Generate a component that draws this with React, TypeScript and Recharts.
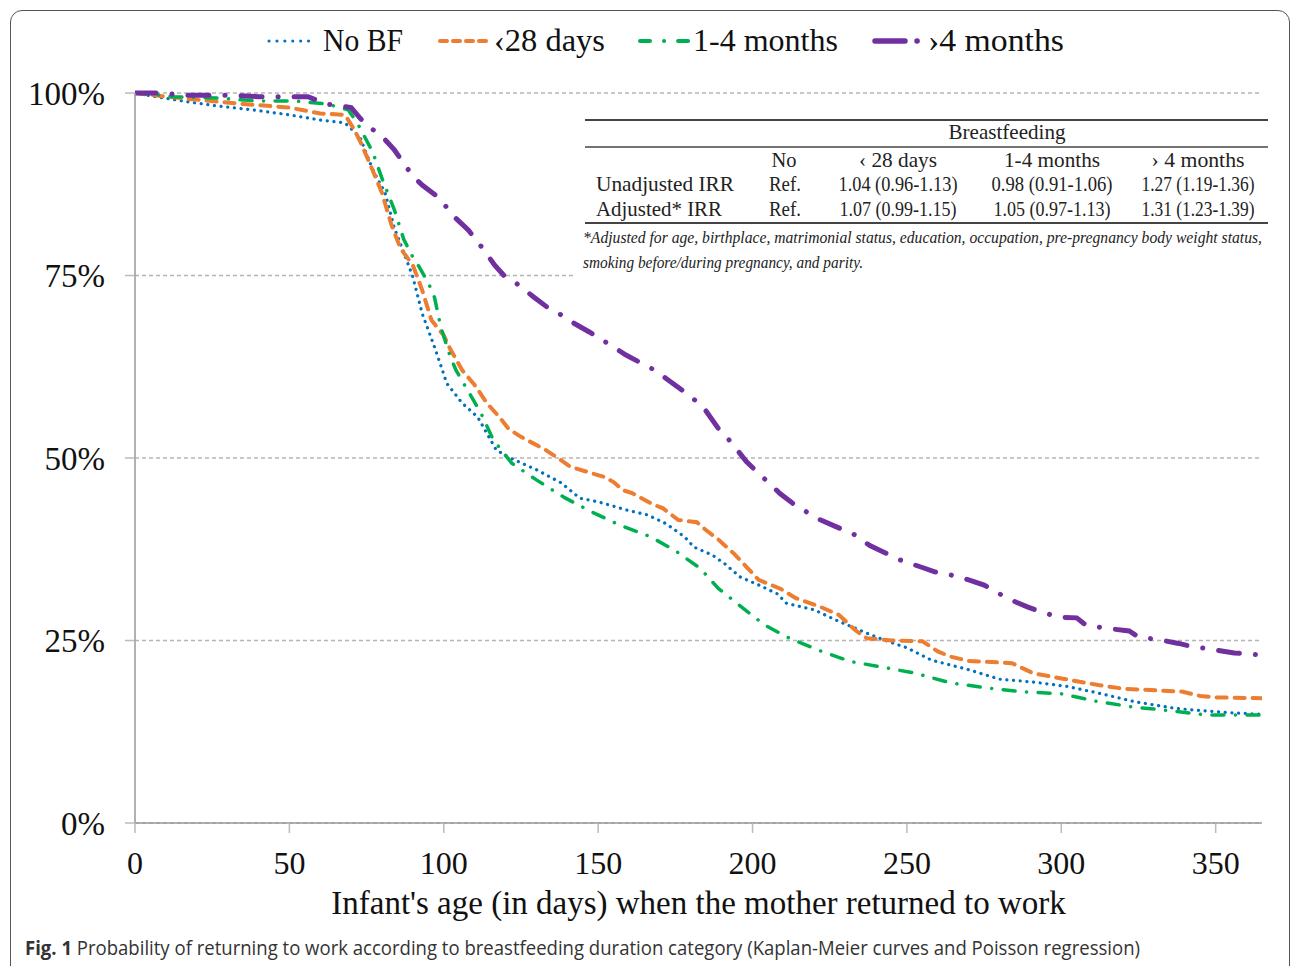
import { LineChart, Line, XAxis, YAxis, CartesianGrid } from 'recharts'

// Kaplan-Meier curves (day -> % not yet returned to work)
const noBfDays = [0, 8, 17, 27, 38, 50, 60, 68, 71, 73, 77, 81, 84, 87, 90, 93, 97, 101, 106, 111, 117, 121, 130, 138, 144, 150, 159, 166, 172, 178, 181, 187, 191, 196, 202, 208, 211, 220, 227, 237, 243, 250, 258, 270, 280, 291, 302, 312, 318, 324, 337, 345, 355, 365]
const noBfPct = [100, 99.4, 98.8, 98.2, 97.7, 97.0, 96.3, 95.9, 94.7, 93.8, 89.5, 86.3, 81.5, 78.2, 74.8, 69.8, 65.2, 60.2, 57.5, 55.6, 51.1, 50.1, 48.4, 46.6, 44.5, 44.0, 42.9, 42.2, 41.0, 39.2, 37.8, 36.7, 35.5, 33.7, 32.6, 31.4, 30.1, 29.2, 27.8, 26.0, 25.0, 24.0, 22.3, 21.0, 19.7, 19.3, 18.7, 17.8, 17.2, 16.6, 15.7, 15.4, 15.1, 14.9]

const lt28Days = [0, 10, 22, 35, 50, 60, 68, 71, 73, 76, 80, 83, 86, 90, 93, 96, 100, 102, 106, 110, 114, 118, 121, 125, 133, 138, 141, 148, 152, 155, 158, 161, 167, 171, 176, 182, 185, 189, 194, 198, 202, 209, 214, 222, 228, 233, 237, 245, 255, 260, 264, 270, 284, 291, 300, 312, 320, 339, 345, 350, 365]
const lt28Pct = [100, 99.5, 99.0, 98.5, 98.0, 97.2, 97.0, 95.0, 93.3, 90.4, 86.3, 82.0, 78.7, 76.4, 73.0, 68.9, 66.8, 65.0, 62.0, 60.0, 57.5, 55.6, 54.0, 52.9, 51.1, 49.7, 48.8, 47.9, 47.4, 46.7, 45.6, 45.2, 43.8, 43.1, 41.5, 41.2, 40.1, 38.8, 36.9, 35.1, 33.3, 32.1, 30.8, 29.6, 28.5, 26.5, 25.3, 25.0, 24.9, 23.5, 22.8, 22.2, 21.9, 20.5, 19.8, 18.9, 18.4, 18.0, 17.4, 17.2, 17.1]

const m14Days = [0, 6, 12, 27, 40, 52, 62, 69, 72, 77, 80, 84, 87, 90, 92, 95, 97, 99, 102, 104, 107, 112, 116, 122, 130, 139, 148, 157, 167, 175, 183, 189, 197, 204, 212, 223, 232, 244, 253, 264, 276, 287, 300, 311, 323, 335, 347, 365]
const m14Pct = [100, 99.8, 99.5, 99.3, 98.9, 98.9, 98.5, 97.7, 95.9, 91.9, 88.3, 84.0, 80.0, 77.5, 76.2, 74.0, 72.0, 68.0, 64.0, 62.0, 59.8, 56.2, 52.5, 49.3, 47.0, 44.6, 42.6, 40.8, 39.2, 37.3, 34.9, 32.1, 29.4, 27.1, 25.3, 23.4, 22.1, 21.2, 20.5, 19.2, 18.5, 18.0, 17.7, 16.7, 15.9, 15.4, 14.8, 14.8]

const gt4Days = [0, 9, 15, 30, 40, 56, 62, 70, 73, 77, 81, 84, 87, 90, 93, 98, 104, 108, 113, 116.5, 119.5, 123, 129, 134, 138, 142, 147, 155, 159, 168, 172, 180, 184, 189, 193, 198, 202, 209, 213, 221, 227, 233, 238, 248, 255, 259, 264, 270, 275, 279, 284, 289, 293, 299, 305, 308, 316, 322, 325, 333, 338, 342, 350, 356, 365]
const gt4Pct = [100, 100, 99.7, 99.7, 99.5, 99.5, 98.5, 98.0, 96.5, 95.0, 93.6, 92.2, 90.4, 88.6, 87.4, 85.8, 82.8, 81.2, 78.5, 76.4, 75.0, 74.1, 72.1, 70.5, 69.6, 68.5, 67.3, 65.2, 64.1, 62.1, 60.9, 58.4, 57.0, 54.0, 52.2, 49.5, 47.9, 45.1, 43.8, 41.7, 40.6, 39.5, 38.0, 36.0, 35.0, 34.4, 34.0, 33.3, 32.6, 31.6, 30.5, 29.6, 29.0, 28.2, 28.1, 27.1, 26.6, 26.3, 25.5, 25.0, 24.6, 24.2, 23.7, 23.3, 23.0]

const xTicks = [0, 50, 100, 150, 200, 250, 300, 350]
const yTicks = [0, 25, 50, 75, 100]

const toPoints = (days: number[], pct: number[]) => days.map((d, i) => ({ day: d, pct: pct[i] }))

const SERIF = '"Liberation Serif", "DejaVu Serif", serif'

const series = [
    { key: 'nobf', label: 'No BF', color: '#0070C0', width: 3.2, dash: '0.1 6.6', data: toPoints(noBfDays, noBfPct) },
    { key: 'lt28', label: '‹28 days', color: '#ED7D31', width: 4, dash: '10 8', data: toPoints(lt28Days, lt28Pct) },
    { key: 'm14', label: '1-4 months', color: '#00B050', width: 3.5, dash: '12 11.5 0.1 11.5', data: toPoints(m14Days, m14Pct) },
    { key: 'gt4', label: '›4 months', color: '#7030A0', width: 5, dash: '21 16 0.1 16', data: toPoints(gt4Days, gt4Pct) },
]

function LegendRow() {
    return (
        <svg width={1292} height={70} style={{ position: 'absolute', left: 0, top: 0, pointerEvents: 'none' }}>
            <g strokeLinecap="round" fill="none">
                <line x1={269} y1={41} x2={316} y2={41} stroke="#0070C0" strokeWidth={3} strokeDasharray="0.1 7.8" />
                <line x1={440} y1={41} x2={488} y2={41} stroke="#ED7D31" strokeWidth={4} strokeDasharray="7 6" />
                <line x1={640} y1={41} x2={689} y2={41} stroke="#00B050" strokeWidth={4} strokeDasharray="10 14 0.1 14" />
                <line x1={875} y1={41} x2={920} y2={41} stroke="#7030A0" strokeWidth={5.5} strokeDasharray="30 12 0.1 20" />
            </g>
            <g fontFamily={SERIF} fontSize={31} fill="#111">
                <text x={323} y={51} textLength={80} lengthAdjust="spacingAndGlyphs">No BF</text>
                <text x={494} y={51} textLength={111} lengthAdjust="spacingAndGlyphs">‹28 days</text>
                <text x={693} y={51} textLength={145} lengthAdjust="spacingAndGlyphs">1-4 months</text>
                <text x={928} y={51} textLength={136} lengthAdjust="spacingAndGlyphs">›4 months</text>
            </g>
        </svg>
    )
}

function IrrTable() {
    const cols = [898, 1052, 1198]
    return (
        <svg width={1292} height={300} style={{ position: 'absolute', left: 0, top: 0, pointerEvents: 'none' }}>
            <rect x={576} y={110} width={698} height={170} fill="#fff" />
            <line x1={585} y1={120} x2={1268} y2={120} stroke="#444" strokeWidth={2} />
            <line x1={585} y1={147} x2={1268} y2={147} stroke="#444" strokeWidth={1.5} />
            <line x1={585} y1={223} x2={1268} y2={223} stroke="#444" strokeWidth={2} />
            <g fontFamily={SERIF} fontSize={21} fill="#222">
                <text x={1007} y={139} textAnchor="middle" textLength={117} lengthAdjust="spacingAndGlyphs">Breastfeeding</text>
                <text x={784} y={167} textAnchor="middle" textLength={25} lengthAdjust="spacingAndGlyphs">No</text>
                <text x={cols[0]} y={167} textAnchor="middle" textLength={78} lengthAdjust="spacingAndGlyphs">‹ 28 days</text>
                <text x={cols[1]} y={167} textAnchor="middle" textLength={96} lengthAdjust="spacingAndGlyphs">1-4 months</text>
                <text x={cols[2]} y={167} textAnchor="middle" textLength={93} lengthAdjust="spacingAndGlyphs">› 4 months</text>

                <text x={596} y={191} textLength={138} lengthAdjust="spacingAndGlyphs">Unadjusted IRR</text>
                <text x={785} y={191} textAnchor="middle" textLength={32} lengthAdjust="spacingAndGlyphs">Ref.</text>
                <text x={cols[0]} y={191} textAnchor="middle" textLength={119} lengthAdjust="spacingAndGlyphs">1.04 (0.96-1.13)</text>
                <text x={cols[1]} y={191} textAnchor="middle" textLength={121} lengthAdjust="spacingAndGlyphs">0.98 (0.91-1.06)</text>
                <text x={cols[2]} y={191} textAnchor="middle" textLength={113} lengthAdjust="spacingAndGlyphs">1.27 (1.19-1.36)</text>

                <text x={596} y={216} textLength={126} lengthAdjust="spacingAndGlyphs">Adjusted* IRR</text>
                <text x={785} y={216} textAnchor="middle" textLength={32} lengthAdjust="spacingAndGlyphs">Ref.</text>
                <text x={cols[0]} y={216} textAnchor="middle" textLength={117} lengthAdjust="spacingAndGlyphs">1.07 (0.99-1.15)</text>
                <text x={cols[1]} y={216} textAnchor="middle" textLength={117} lengthAdjust="spacingAndGlyphs">1.05 (0.97-1.13)</text>
                <text x={cols[2]} y={216} textAnchor="middle" textLength={113} lengthAdjust="spacingAndGlyphs">1.31 (1.23-1.39)</text>
            </g>
            <g fontFamily={SERIF} fontSize={16} fontStyle="italic" fill="#222">
                <text x={583} y={243} textLength={679} lengthAdjust="spacingAndGlyphs">
                    *Adjusted for age, birthplace, matrimonial status, education, occupation, pre-pregnancy body weight status,
                </text>
                <text x={583} y={268} textLength={280} lengthAdjust="spacingAndGlyphs">
                    smoking before/during pregnancy, and parity.
                </text>
            </g>
        </svg>
    )
}

export default function App() {
    return (
        <div style={{ position: 'absolute', left: 0, top: 0, width: 1292, height: 966, background: '#fff', overflow: 'hidden' }}>
            <div
                style={{
                    position: 'absolute',
                    left: 10,
                    top: 10,
                    width: 1278,
                    height: 980,
                    border: '1.5px solid #555',
                    borderRadius: 12,
                }}
            />
            <div style={{ position: 'absolute', left: 0, top: 0 }}>
                <LineChart width={1292} height={966} margin={{ top: 93, right: 30, left: 35, bottom: 50 }}>
                    <CartesianGrid vertical={false} stroke="#b5b5b5" strokeDasharray="4 3" strokeWidth={1.3} />
                    <XAxis
                        type="number"
                        dataKey="day"
                        domain={[0, 365]}
                        ticks={xTicks}
                        interval={0}
                        allowDataOverflow
                        height={93}
                        tickSize={10}
                        tickMargin={18}
                        axisLine={{ stroke: '#999', strokeWidth: 1.5 }}
                        tickLine={{ stroke: '#bbb', strokeWidth: 1.5 }}
                        tick={{ fill: '#111', fontSize: 32, fontFamily: SERIF }}
                        label={{
                            value: "Infant's age (in days) when the mother returned to work",
                            position: 'insideBottom',
                            offset: 2,
                            fill: '#111',
                            fontSize: 33,
                            fontFamily: SERIF,
                        }}
                    />
                    <YAxis
                        type="number"
                        domain={[0, 100]}
                        ticks={yTicks}
                        interval={0}
                        width={100}
                        tickSize={10}
                        tickMargin={20}
                        tickFormatter={(v: number) => `${v}%`}
                        axisLine={{ stroke: '#999', strokeWidth: 1.5 }}
                        tickLine={{ stroke: '#bbb', strokeWidth: 1.5 }}
                        tick={{ fill: '#111', fontSize: 33, fontFamily: SERIF }}
                    />
                    {series.map((s) => (
                        <Line
                            key={s.key}
                            data={s.data}
                            dataKey="pct"
                            name={s.label}
                            type="linear"
                            stroke={s.color}
                            strokeWidth={s.width}
                            strokeDasharray={s.dash}
                            strokeLinecap="round"
                            dot={false}
                            activeDot={false}
                            isAnimationActive={false}
                        />
                    ))}
                </LineChart>
            </div>
            <LegendRow />
            <IrrTable />
            <svg width={1292} height={966} style={{ position: 'absolute', left: 0, top: 0, pointerEvents: 'none' }}>
                <text
                    x={25}
                    y={955}
                    fontFamily='"Open Sans", "Liberation Sans", sans-serif'
                    fontSize={20}
                    fill="#333"
                    textLength={1115}
                    lengthAdjust="spacingAndGlyphs"
                >
                    <tspan fontWeight="bold">Fig. 1</tspan> Probability of returning to work according to breastfeeding duration category (Kaplan-Meier curves and Poisson regression)
                </text>
            </svg>
        </div>
    )
}
